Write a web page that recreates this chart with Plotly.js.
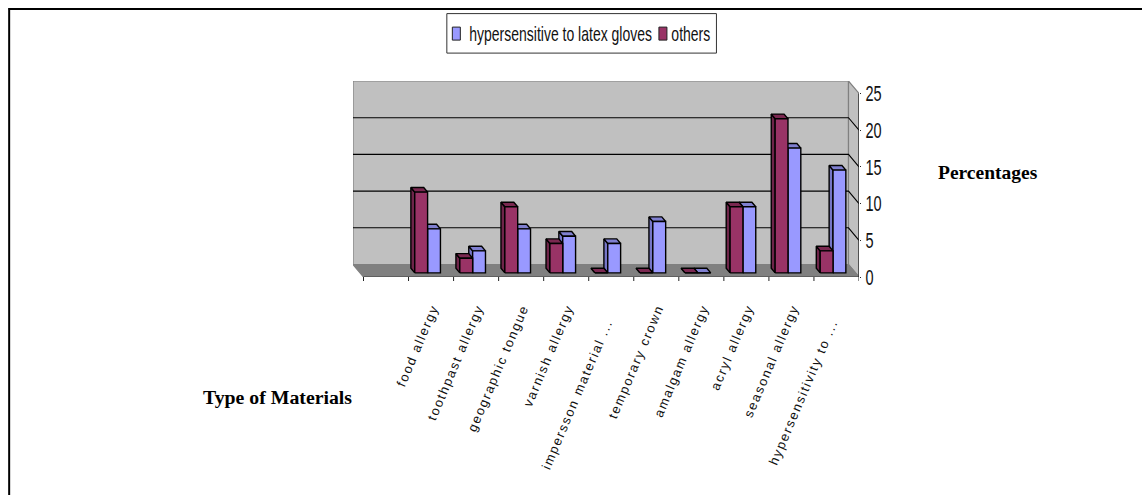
<!DOCTYPE html>
<html><head><meta charset="utf-8">
<script src="https://cdn.plot.ly/plotly-3.0.1.min.js"></script>
<style>
html,body{margin:0;padding:0;background:#fff;}
.xtick text{letter-spacing:1.7px;}
</style></head>
<body><div id="chart" style="width:1142px;height:495px"></div>
<script>
const categories = ["", "food allergy", "toothpast allergy", "geographic tongue", "varnish allergy", "impersson material ...\u00a0\u00a0\u00a0", "temporary crown", "amalgam allergy", "acryl allergy", "seasonal allergy", "hypersensitivity to ...\u00a0\u00a0\u00a0"];
const latexValues = [null, 6, 3, 6, 5, 4, 7, 0, 9, 17, 14];
const otherValues = [null, 11, 2, 9, 4, 0, 0, 0, 9, 21, 3];
const yTicks = [0, 5, 10, 15, 20, 25];
const seriesNames = ["hypersensitive to latex gloves", "others"];

const W = 1142, H = 495;
const plotL = 353.2, plotR = 859, plotT = 80.9, plotB = 276.9;
const pxX = p => (p - plotL) / (plotR - plotL), pxY = p => (plotB - p) / (plotB - plotT);
const DX = 0.233, DY = 1.70, FRONT = 0.33, BACK = 0.70, BAR = 0.285;
const Xp = (x, d) => x - d * DX, Yp = (y, d) => y + d * DY;

function faces(values, start) {
  const front = {x: [], y: []}, side = {x: [], y: []}, top = {x: [], y: []};
  const add = (o, pts) => { pts.forEach(p => { o.x.push(p[0]); o.y.push(p[1]); }); o.x.push(null); o.y.push(null); };
  values.forEach((v, i) => {
    if (v === null) return;
    const l = i + start, r = l + BAR;
    add(front, [[Xp(l,FRONT),Yp(0,FRONT)],[Xp(r,FRONT),Yp(0,FRONT)],[Xp(r,FRONT),Yp(v,FRONT)],[Xp(l,FRONT),Yp(v,FRONT)],[Xp(l,FRONT),Yp(0,FRONT)]]);
    add(side, [[Xp(l,FRONT),Yp(0,FRONT)],[Xp(l,FRONT),Yp(v,FRONT)],[Xp(l,BACK),Yp(v,BACK)],[Xp(l,BACK),Yp(0,BACK)],[Xp(l,FRONT),Yp(0,FRONT)]]);
    add(top, [[Xp(l,FRONT),Yp(v,FRONT)],[Xp(r,FRONT),Yp(v,FRONT)],[Xp(r,BACK),Yp(v,BACK)],[Xp(l,BACK),Yp(v,BACK)],[Xp(l,FRONT),Yp(v,FRONT)]]);
  });
  return {front, side, top};
}
const poly = (o, fill, line, w) => ({type:'scatter', mode:'lines', x:o.x, y:o.y, fill:'toself', fillcolor:fill,
  line:{color:line, width:w===undefined?1.4:w}, hoverinfo:'skip', showlegend:false, cliponaxis:false});
const seg = (x, y, c, w) => ({type:'scatter', mode:'lines', x, y, line:{color:c, width:w}, hoverinfo:'skip', showlegend:false, cliponaxis:false});

const n = categories.length;
const traces = [];
traces.push(poly({x:[Xp(0,1),Xp(n,1),Xp(n,1),Xp(0,1),Xp(0,1)], y:[Yp(0,1),Yp(0,1),Yp(25,1),Yp(25,1),Yp(0,1)]}, '#c0c0c0', '#808080', 1.2));
traces.push(poly({x:[Xp(n,1),n,n,Xp(n,1),Xp(n,1)], y:[Yp(0,1),0,25,Yp(25,1),Yp(0,1)]}, '#c0c0c0', '#808080', 1.2));
traces.push(poly({x:[Xp(0,1),Xp(n,1),n,0,Xp(0,1)], y:[Yp(0,1),Yp(0,1),0,0,Yp(0,1)]}, '#808080', '#808080', 1.2));
yTicks.slice(1,-1).forEach(t => {
  traces.push(seg([Xp(0,1),Xp(n,1),n],[Yp(t,1),Yp(t,1),t],'#000',1.1));
});
const blue = faces(latexValues, 0.5);
const red = faces(otherValues, 0.5 - BAR);
[[blue,'#9999ff','#7676c8','#7f7fd0'],[red,'#993366','#6e2449','#7a2850']].forEach(([f,c,s,t]) => {
  traces.push(poly(f.side, s, '#000'));
  traces.push(poly(f.top, t, '#000'));
  traces.push(poly(f.front, c, '#000'));
});
traces.push(seg([0,n],[0,0],'#555',1.4));
traces.push(seg([n,n],[0,25],'#222',1.2));

const layout = {
  width:W, height:H, autosize:false, showlegend:false,
  paper_bgcolor:'#fff', plot_bgcolor:'rgba(0,0,0,0)',
  margin:{l:plotL, r:W-plotR, t:plotT, b:H-plotB, pad:0},
  font:{family:'"Liberation Sans", Arial, sans-serif', color:'#000'},
  xaxis:{range:[-DX, n], tickmode:'array',
    tickvals:categories.map((c,i)=>i+0.54), ticktext:categories, tickangle:-67,
    tickfont:{family:'"Liberation Sans", Arial, sans-serif', size:13, color:'#111'},
    ticks:'', showgrid:false, zeroline:false, showline:false, ticklabelstandoff:20, fixedrange:true},
  yaxis:{range:[0, 25+DY], side:'right', tickmode:'array', tickvals:yTicks,
    ticktext:yTicks.map(String), ticks:'outside', ticklen:1, tickcolor:'#222',
    tickfont:{family:'"Liberation Sans", sans-serif', size:22, color:'#111'},
    showgrid:false, zeroline:false, showline:false, fixedrange:true},
  shapes:[
    {type:'rect', xref:'paper', yref:'paper', x0:pxX(447), x1:pxX(716.5), y0:pxY(13.5), y1:pxY(53), line:{color:'#333',width:1}, fillcolor:'#fff'},
    {type:'rect', xref:'paper', yref:'paper', x0:pxX(452.5), x1:pxX(460.5), y0:pxY(27), y1:pxY(40), line:{color:'#222',width:1}, fillcolor:'#9999ff'},
    {type:'rect', xref:'paper', yref:'paper', x0:pxX(659), x1:pxX(667), y0:pxY(27), y1:pxY(40), line:{color:'#222',width:1}, fillcolor:'#993366'},
    {type:'line', xref:'paper', yref:'paper', x0:pxX(9), x1:pxX(1142), y0:pxY(9), y1:pxY(9), line:{color:'#000',width:2}},
    {type:'line', xref:'paper', yref:'paper', x0:pxX(9.5), x1:pxX(9.5), y0:pxY(8), y1:pxY(495), line:{color:'#000',width:2}}
  ],
  annotations:[
    {text:seriesNames[0], xref:'paper', yref:'paper', x:pxX(560.5), y:pxY(34), xanchor:'center', yanchor:'middle', showarrow:false,
      font:{family:'"Liberation Sans", sans-serif', size:20, color:'#111'}},
    {text:seriesNames[1], xref:'paper', yref:'paper', x:pxX(691), y:pxY(34), xanchor:'center', yanchor:'middle', showarrow:false,
      font:{family:'"Liberation Sans", sans-serif', size:20, color:'#111'}},
    {text:'<b>Type of Materials</b>', xref:'paper', yref:'paper', x:pxX(201), y:pxY(397), xanchor:'left', yanchor:'middle', showarrow:false,
      font:{family:'"Liberation Serif", "Times New Roman", serif', size:19.8, color:'#000'}},
    {text:'<b>Percentages</b>', xref:'paper', yref:'paper', x:pxX(936), y:pxY(172), xanchor:'left', yanchor:'middle', showarrow:false,
      font:{family:'"Liberation Serif", "Times New Roman", serif', size:19.5, color:'#000'}}
  ]
};
categories.concat([""]).forEach((c,i) => {
  layout.shapes.push({type:'line', xref:'x', yref:'paper', x0:i, x1:i, y0:pxY(plotB), y1:pxY(plotB+4), line:{color:'#222',width:1}});
});
Plotly.newPlot('chart', traces, layout, {displayModeBar:false, staticPlot:true}).then(gd => {
  // The reference's sans text is a horizontally condensed face: squeeze glyphs to its widths.
  gd.querySelectorAll('.ytick text').forEach(t => {
    t.setAttribute('textLength', t.getComputedTextLength() * 0.66);
    t.setAttribute('lengthAdjust', 'spacingAndGlyphs');
  });
  gd.querySelectorAll('.annotation-text').forEach(t => {
    if (t.textContent === seriesNames[0] || t.textContent === seriesNames[1]) {
      const b = t.getBBox(), cx = b.x + b.width / 2;
      t.setAttribute('transform', `translate(${cx},0) scale(0.70,1) translate(${-cx},0)`);
    }
  });
});
</script></body></html>
